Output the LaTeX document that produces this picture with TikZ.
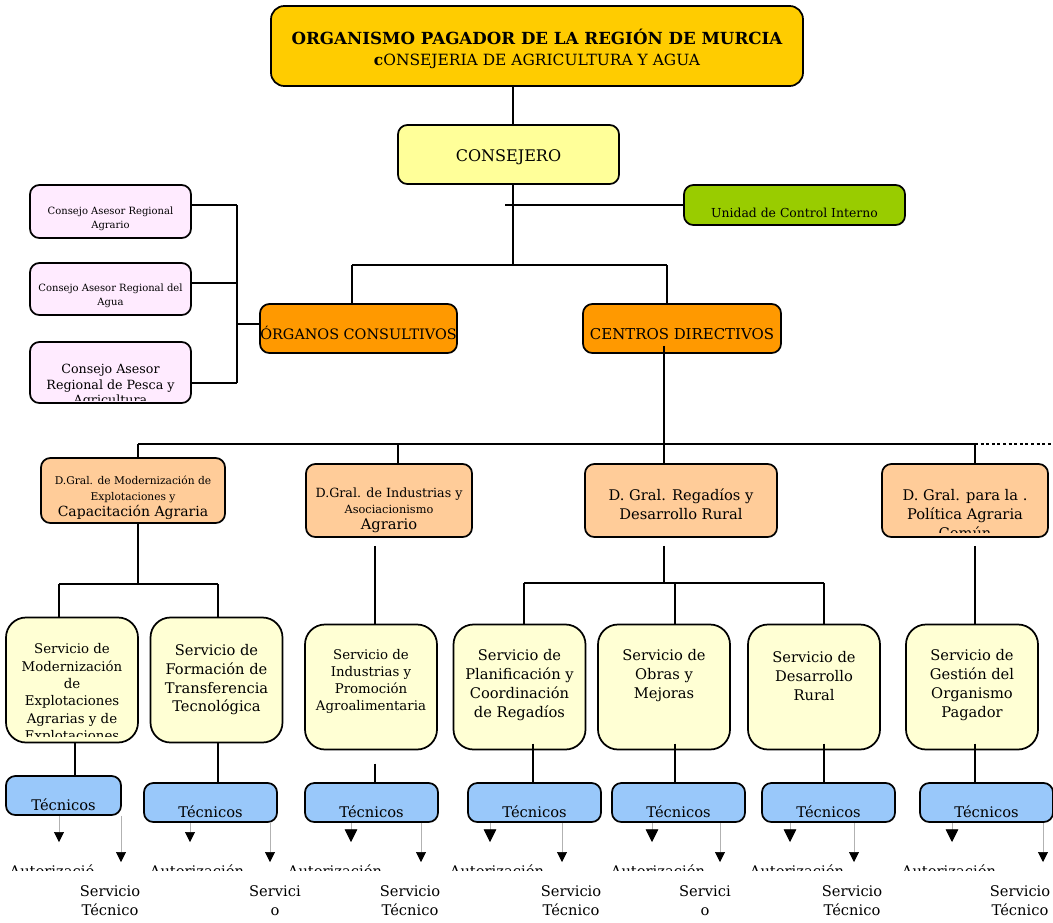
\documentclass[tikz,border=0pt]{standalone}
\usepackage{fontspec}
\setmainfont{DejaVu Serif}
\usepackage{tikz}
\usetikzlibrary{
  arrows.meta,  % puntas Triangle
  calc,         % coordenadas calculadas
  positioning   % colocación relativa
}

\definecolor{oro}{HTML}{FFCC00}
\definecolor{amarillo}{HTML}{FFFF99}
\definecolor{verde}{HTML}{99CC00}
\definecolor{naranja}{HTML}{FF9900}
\definecolor{rosa}{HTML}{FFEBFF}
\definecolor{salmon}{HTML}{FFCC99}
\definecolor{crema}{HTML}{FFFFD4}
\definecolor{azul}{HTML}{99C8FA}

\newcommand{\letra}[2]{\fontsize{#1}{#2}\selectfont}

\tikzset{
  caja/.style 2 args={draw=black, line width=1.3pt, rounded corners=7pt,
    minimum width=#1*0.75pt, minimum height=#2*0.75pt, inner sep=0pt},
  texto/.style={align=center, inner sep=0pt},
  abajo/.style={text height=#1, text depth=0pt},
  linea/.style={line width=2.2pt},
  hueco/.style={shorten <=6pt},
  flecha/.style={-{Triangle[width=#1pt,length=#1pt,color=black]}, draw=gray!60, line width=0.5pt}
}

\begin{document}
\begin{tikzpicture}[x=0.75pt, y=-0.75pt]

  \useasboundingbox (0,0) rectangle (1053,922);

  % =========== Cabecera y consejero ===========
  \node[caja={532}{80}, fill=oro, rounded corners=10pt] (top) at (537,46) {};
  \node[texto] (toptxt) at (537,49) {\letra{12.5}{16}\bfseries ORGANISMO PAGADOR DE LA REGIÓN DE MURCIA\\[4pt]
    \letra{11.6}{16}\mdseries\textbf{c}ONSEJERIA DE AGRICULTURA Y AGUA};
  \node[caja={221}{59}, fill=amarillo, font=\letra{12}{14}, abajo=10pt] (conse) at (508.5,154.5) {CONSEJERO};
  \node[caja={221}{40}, fill=verde, font=\letra{9.3}{11}, abajo=18pt] (unidad) at (794.5,205) {Unidad de Control Interno};
  \node[caja={197}{49}, fill=naranja, font=\letra{10.8}{13}, abajo=15.8pt] (organos) at (358.5,328.5) {ÓRGANOS CONSULTIVOS};
  \node[caja={198}{49}, fill=naranja, font=\letra{11.2}{13}, abajo=15.8pt] (centros) at (682,328.5) {CENTROS DIRECTIVOS};

  % =========== Consejos asesores ===========
  \node[caja={161}{53}, fill=rosa] (cas1) at (110.5,211.5) {};
  \node[caja={161}{52}, fill=rosa] (cas2) at (110.5,289) {};
  \node[caja={161}{61}, fill=rosa] (cas3) at (110.5,372.5) {};
  \node[texto, font=\letra{7.5}{10.5}] (cas1txt) at (110.5,219) {Consejo Asesor Regional\\Agrario};
  \node[texto, font=\letra{7.5}{10.5}] (cas2txt) at (110.5,295.5) {Consejo Asesor Regional del\\Agua};
  \begin{scope}
    \clip (cas3.north west) rectangle ($(cas3.south east)+(0,-3)$);
    \node[texto, font=\letra{9.5}{11.6}] (cas3txt) at (110.5,386) {Consejo Asesor\\Regional de Pesca y\\Agricultura};
  \end{scope}

  % =========== Direcciones generales ===========
  \node[caja={184}{65}, fill=salmon] (dg1) at (133,490.5) {};
  \node[caja={166}{73}, fill=salmon] (dg2) at (389,500.5) {};
  \node[caja={192}{73}, fill=salmon] (dg3) at (681,500.5) {};
  \node[caja={166}{73}, fill=salmon] (dg4) at (965,500.5) {};
  \node[texto] (dg1txt) at (133,498) {\letra{8}{9.75}D.Gral. de Modernización de\\
    \letra{8}{9.75}Explotaciones y\\ \letra{10.5}{12}Capacitación Agraria};
  \node[texto] (dg2txt) at (389,510) {\letra{9.5}{12.75}D.Gral. de Industrias y\\
    \letra{8.5}{12.75}Asociacionismo\\ \letra{11}{12.75}Agrario};
  \node[texto, font=\letra{11}{14.25}] (dg3txt) at (681,504.5) {D. Gral. Regadíos y\\Desarrollo Rural};
  \begin{scope}
    \clip (dg4.north west) rectangle ($(dg4.south east)+(0,-5)$);
    \node[texto, font=\letra{11}{14.25}] (dg4txt) at (965,514) {D. Gral. para la .\\Política Agraria\\Común};
  \end{scope}

  % =========== Servicios ===========
  \foreach \s/\cx/\cy in {s1/72/680, s2/216.5/680, s3/371/687, s4/519.5/687,
                          s5/664/687, s6/814/687, s7/972/687}
    \node[caja={132}{125}, fill=crema, rounded corners=15pt] (\s) at (\cx,\cy) {};
  \begin{scope}
    \clip (s1.north west) rectangle ($(s1.south east)+(0,-7)$);
    \node[texto, font=\letra{10}{13}] (s1txt) at (72,693.5)
      {Servicio de\\Modernización\\de\\Explotaciones\\Agrarias y de\\Explotaciones};
  \end{scope}
  \node[texto, font=\letra{11}{14}] (s2txt) at (216.5,680) {Servicio de\\Formación de\\Transferencia\\Tecnológica};
  \node[texto, font=\letra{10}{12.75}] (s3txt) at (371,681.5) {Servicio de\\Industrias y\\Promoción\\Agroalimentaria};
  \node[texto, font=\letra{11}{14.25}] (s4txt) at (519.5,685.5) {Servicio de\\Planificación y\\Coordinación\\de Regadíos};
  \node[texto, font=\letra{11}{14.25}] (s5txt) at (664,676) {Servicio de\\Obras y\\Mejoras};
  \node[texto, font=\letra{11}{14.25}] (s6txt) at (814,676) {Servicio de\\Desarrollo\\Rural};
  \node[texto, font=\letra{11}{14.25}] (s7txt) at (972,685.5) {Servicio de\\Gestión del\\Organismo\\Pagador};

  % =========== Técnicos ===========
  \node[caja={115}{39}, fill=azul, font=\letra{11}{13}, abajo=21.8pt] (t1) at (63.5,795.5) {Técnicos};
  \foreach \t/\cx in {t2/210.5, t3/371.5, t4/534.5, t5/678.5, t6/828.5, t7/986.5}
    \node[caja={133}{39}, fill=azul, font=\letra{11}{13}, abajo=21.8pt] (\t) at (\cx,802.5) {Técnicos};

  % =========== Conectores ===========
  % 1. consejero, unidad de control y ramas
  \coordinate (eje) at (513,265);
  \coordinate (ui) at (505,205);
  \coordinate (ramaO) at (352,265);
  \coordinate (ramaC) at (667,265);
  \draw[linea] (top.south -| eje) -- (conse.north -| eje);
  \draw[linea] (conse.south -| eje) -- (eje);
  \draw[linea] (ui) -- (unidad.west);
  \draw[linea] (ramaO) -- (ramaC);
  \draw[linea] (ramaO) -- (ramaO |- organos.north);
  \draw[linea] (ramaC) -- (ramaC |- centros.north);

  % 2. corchete de los consejos asesores
  \coordinate (b1) at (237,205);
  \coordinate (b2) at (237,283);
  \coordinate (b3) at (237,383);
  \coordinate (b4) at (237,324);
  \draw[linea] (b1) -- (b3);
  \draw[linea] (b1 -| cas1.east) -- (b1);
  \draw[linea] (b2 -| cas2.east) -- (b2);
  \draw[linea] (b3 -| cas3.east) -- (b3);
  \draw[linea] (b4) -- (b4 -| organos.west);

  % 3. barra de direcciones generales
  \coordinate (d1) at (138,444);
  \coordinate (d2) at (398,444);
  \coordinate (d3) at (664,444);
  \coordinate (d4) at (975,444);
  \coordinate (puntos) at (1053,444);
  \draw[linea, shorten <=-6pt] (d3 |- centros.south) -- (d3);
  \draw[linea] (d1) -- (d4);
  \draw[linea, dotted] (d4) -- (puntos);
  \foreach \d/\g in {d1/dg1, d2/dg2, d3/dg3, d4/dg4}
    \draw[linea] (\d) -- (\d |- \g.north);

  % 4. de direcciones a servicios
  \coordinate (h1a) at (59,584);
  \coordinate (h1b) at (218,584);
  \coordinate (v2) at (375,600);
  \coordinate (h3a) at (524,583);
  \coordinate (h3b) at (675,583);
  \coordinate (h3c) at (824,583);
  \draw[linea] (d1 |- dg1.south) -- (d1 |- h1a);
  \draw[linea] (h1a) -- (h1b);
  \draw[linea] (h1a) -- (h1a |- s1.north);
  \draw[linea] (h1b) -- (h1b |- s2.north);
  \draw[linea, hueco] (v2 |- dg2.south) -- (v2 |- s3.north);
  \draw[linea, hueco] (d3 |- dg3.south) -- (d3 |- h3a);
  \draw[linea] (h3a) -- (h3c);
  \foreach \h/\s in {h3a/s4, h3b/s5, h3c/s6}
    \draw[linea] (\h) -- (\h |- \s.north);
  \draw[linea, hueco] (d4 |- dg4.south) -- (d4 |- s7.north);

  % 5. de servicios a técnicos
  \foreach \s/\t/\x/\g in {s1/t1/75/0, s2/t2/218/0, s3/t3/375/10, s4/t4/533/-5,
                           s5/t5/675/-5, s6/t6/824/-5, s7/t7/975/-5}{
    \coordinate (c\s) at (\x,760);
    \draw[linea, shorten <=\g pt] (c\s |- \s.south) -- (c\s |- \t.north);
  }

  % 6. flechas de los técnicos
  \foreach \t/\xa/\xb/\w in {t1/59/121/7.5, t2/190/270/7.5, t3/351/421/9.5, t4/490/562/9.5,
                             t5/652/720/9.5, t6/790/854/9.5, t7/952/1043/9.5}{
    \coordinate (a\t) at (\xa,842);
    \coordinate (b\t) at (\xb,862);
    \draw[flecha=\w] (\t.south -| a\t) -- (a\t);
    \draw[flecha=7.5] (\t.south -| b\t) -- (b\t);
  }

  % =========== Textos inferiores ===========
  \begin{scope}
    \clip (0,850) rectangle (1053,870);
    \foreach \n/\x/\txt in {1/52/Autorizació, 2/197/Autorización, 3/335/Autorización,
                            4/497/Autorización, 5/658/Autorización, 6/797/Autorización,
                            7/949/Autorización}
      \node[texto, font=\letra{11}{13}, anchor=base] (aut\n) at (\x,876) {\txt};
  \end{scope}
  \foreach \n/\x/\txt in {1/110/{Servicio\\Técnico}, 2/275/{Servici\\o}, 3/410/{Servicio\\Técnico},
                          4/571/{Servicio\\Técnico}, 5/705/{Servici\\o}, 6/852/{Servicio\\Técnico},
                          7/1020/{Servicio\\Técnico}}
    \node[texto, font=\letra{11}{14.25}] (st\n) at (\x,900.5) {\txt};

\end{tikzpicture}
\end{document}
